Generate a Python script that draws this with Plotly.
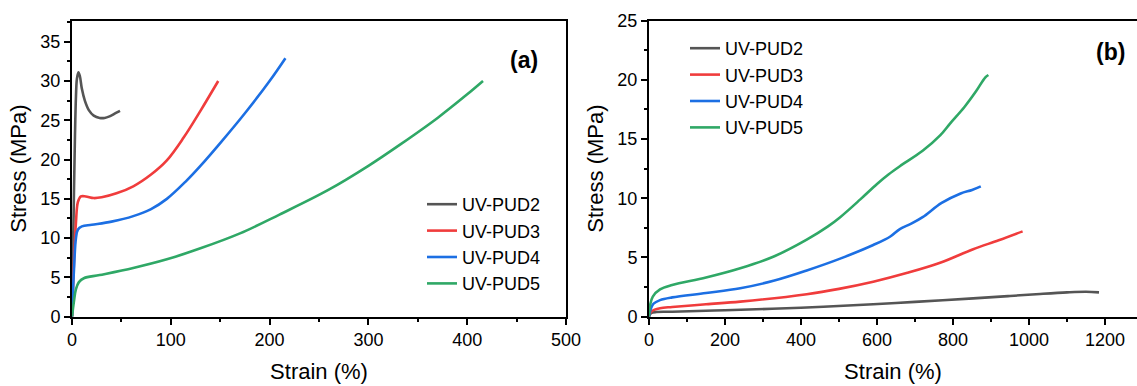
import plotly.graph_objects as go

# ---------------- Panel (a) data ----------------
a_pud2_x = [0, 1, 2, 3, 4, 5, 6.5, 8, 10, 13, 17, 22, 28, 33, 38, 44, 48.6]
a_pud2_y = [0, 8, 16, 23, 28, 30.3, 31.1, 30.6, 29.0, 27.5, 26.3, 25.6, 25.3, 25.3, 25.5, 25.9, 26.2]

a_pud3_x = [0, 2, 4, 6, 9, 14, 22, 30, 45, 62, 80, 96, 113, 130, 148]
a_pud3_y = [0, 7, 12, 14.6, 15.3, 15.3, 15.1, 15.2, 15.7, 16.6, 18.1, 19.9, 22.8, 26.2, 30.0]

a_pud4_x = [0, 2, 4, 6, 10, 20, 40, 62, 80, 96, 115, 130, 150, 175, 200, 216]
a_pud4_y = [0, 6, 10, 11.1, 11.5, 11.7, 12.1, 12.8, 13.7, 15.0, 17.2, 19.2, 22.1, 25.9, 30.0, 32.9]

a_pud5_x = [0, 2, 4, 7, 12, 28, 62, 96, 130, 170, 210, 259, 300, 332, 370, 400, 416]
a_pud5_y = [0, 2, 3.5, 4.4, 4.9, 5.3, 6.2, 7.3, 8.7, 10.6, 13.0, 16.1, 19.2, 21.9, 25.3, 28.3, 30.0]

# ---------------- Panel (b) data ----------------
b_pud2_x = [0, 5, 20, 61, 200, 400, 590, 700, 853, 950, 1029, 1100, 1150, 1184]
b_pud2_y = [0, 0.3, 0.4, 0.42, 0.55, 0.75, 1.05, 1.25, 1.55, 1.75, 1.92, 2.05, 2.1, 2.05]

b_pud3_x = [0, 5, 15, 29, 61, 150, 240, 415, 500, 590, 680, 766, 853, 920, 983]
b_pud3_y = [0, 0.4, 0.6, 0.72, 0.82, 1.05, 1.27, 1.9, 2.35, 2.95, 3.7, 4.55, 5.7, 6.45, 7.2]

b_pud4_x = [0, 5, 12, 29, 61, 150, 240, 330, 415, 503, 590, 634, 660, 690, 720, 770, 820, 850, 873]
b_pud4_y = [0, 0.7, 1.1, 1.4, 1.63, 2.0, 2.4, 3.05, 3.9, 4.9, 6.05, 6.75, 7.4, 7.85, 8.4, 9.6, 10.4, 10.7, 11.0]

b_pud5_x = [0, 3, 10, 29, 61, 150, 240, 330, 415, 470, 503, 556, 600, 630, 660, 720, 766, 792, 830, 860, 885, 893]
b_pud5_y = [0, 1.0, 1.7, 2.3, 2.67, 3.3, 4.08, 5.1, 6.5, 7.6, 8.4, 9.9, 11.2, 12.0, 12.7, 14.0, 15.3, 16.3, 17.7, 19.0, 20.2, 20.4]

names = ["UV-PUD2", "UV-PUD3", "UV-PUD4", "UV-PUD5"]
colors = ["#555555", "#f03c3c", "#1c6fe3", "#2fa866"]

a_series = [(a_pud2_x, a_pud2_y), (a_pud3_x, a_pud3_y), (a_pud4_x, a_pud4_y), (a_pud5_x, a_pud5_y)]
b_series = [(b_pud2_x, b_pud2_y), (b_pud3_x, b_pud3_y), (b_pud4_x, b_pud4_y), (b_pud5_x, b_pud5_y)]

W, H = 1137, 386
FONT = "Liberation Sans, Arial, sans-serif"

fig = go.Figure()
for (x, y), n, c in zip(a_series, names, colors):
    fig.add_trace(go.Scatter(x=x, y=y, mode="lines", name=n, line=dict(color=c, width=2.6, shape="spline", smoothing=1.0),
                             xaxis="x", yaxis="y", legend="legend"))
for (x, y), n, c in zip(b_series, names, colors):
    fig.add_trace(go.Scatter(x=x, y=y, mode="lines", name=n, line=dict(color=c, width=2.6, shape="spline", smoothing=1.0),
                             xaxis="x2", yaxis="y2", legend="legend2"))

ybot = (H - 316.7) / H
ytop = (H - 20.5) / H

axis_common = dict(showline=True, linecolor="black", linewidth=2, ticks="outside", ticklen=6, tickwidth=2,
                   tickcolor="black", showgrid=False, zeroline=False, automargin=False,
                   tickfont=dict(family=FONT, size=18, color="black"),
                   title_font=dict(family=FONT, size=22, color="black"))

fig.update_layout(
    width=W, height=H, margin=dict(l=0, r=0, t=0, b=0, autoexpand=False),
    paper_bgcolor="white", plot_bgcolor="white",
    font=dict(family=FONT, color="black"),
    xaxis=dict(domain=[72 / W, 566 / W], range=[0, 500], dtick=100, mirror=True, anchor="y",
               minor=dict(ticks="outside", ticklen=3, tickwidth=2, dtick=50, tickcolor="black"),
               title=dict(text="Strain (%)", standoff=14), **axis_common),
    yaxis=dict(domain=[ybot, ytop], range=[0, 37.7], dtick=5, mirror=True, anchor="x",
               minor=dict(ticks="outside", ticklen=3, tickwidth=2, dtick=2.5, tickcolor="black"),
               title=dict(text="Stress (MPa)", standoff=8), **axis_common),
    xaxis2=dict(domain=[649 / W, 1.0], range=[0, 1284], dtick=200, mirror=True, anchor="y2",
                minor=dict(ticks="outside", ticklen=3, tickwidth=2, dtick=100, tickcolor="black"),
                title=dict(text="Strain (%)", standoff=14), **axis_common),
    yaxis2=dict(domain=[ybot, ytop], range=[0, 25], dtick=5, mirror=False, anchor="x2",
                minor=dict(ticks="outside", ticklen=3, tickwidth=2, dtick=2.5, tickcolor="black"),
                title=dict(text="Stress (MPa)", standoff=8), **axis_common),
    legend=dict(x=422 / W, y=(H - 186) / H, xanchor="left", yanchor="top", bgcolor="rgba(0,0,0,0)",
                font=dict(family=FONT, size=18, color="black"), tracegroupgap=0),
    legend2=dict(x=685 / W, y=(H - 30) / H, xanchor="left", yanchor="top", bgcolor="rgba(0,0,0,0)",
                 font=dict(family=FONT, size=18, color="black"), tracegroupgap=0),
    annotations=[
        dict(text="<b>(a)</b>", x=540 / W, y=(H - 60) / H, xref="paper", yref="paper", showarrow=False,
             xanchor="right", yanchor="middle", font=dict(family=FONT, size=23, color="black")),
        dict(text="<b>(b)</b>", x=1127 / W, y=(H - 52) / H, xref="paper", yref="paper", showarrow=False,
             xanchor="right", yanchor="middle", font=dict(family=FONT, size=23, color="black")),
    ],
)

fig.write_html("out.html")
